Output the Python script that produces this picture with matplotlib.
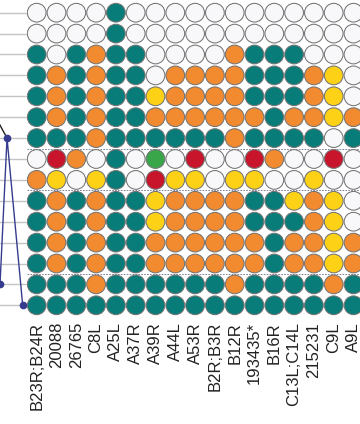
import numpy as np
import matplotlib
matplotlib.use("Agg")
import matplotlib.pyplot as plt

plt.rcParams["font.family"] = ["Liberation Sans", "DejaVu Sans"]

# --- data ---
strains = [
    "B23R;B24R", "20088", "26765", "C8L", "A25L", "A37R", "A39R", "A44L",
    "A53R", "B2R;B3R", "B12R", "193435*", "B16R", "C13L;C14L", "215231",
    "C9L", "A9L",
]

# one row per line of the matrix, one letter per strain
# W = absent, T = teal, O = orange, Y = yellow, R = red, G = green
grid_rows = [
    "WWWWTWWWWWWWWWWWW",
    "WWWWTWWWWWWWWWWWW",
    "TWTOTTWWWWOTTTWWW",
    "TOTOTTWOOOOTTTOYW",
    "TOTOTTYOOOOTTTOYW",
    "TOTOTTOOOOOOTOOYO",
    "TTTOTTTTTTOTTTTWT",
    "WROWTWGWRWWROWWRW",
    "OYWYTWRYYWYYWWYWW",
    "TOTOTTYOOOOTTYOYW",
    "TOTOTTYOOOOTTTOYW",
    "TOTOTTOOOOOOTOOYO",
    "TOTOTTOOOOOOTOOYO",
    "TTTOTTTTTTOTTTTOT",
    "TTTTTTTTTTTTTTTTT",
]

# rows where a new block starts (dotted separator above)
group_starts = [7, 9, 13]

# left panel line (partly cropped)
path_rows = [13, 6, 14]
path_vals = [0.0, 0.078, 0.252]
upper_rows = [5, 6]
upper_vals = [-0.048, 0.078]

COLORS = {
    "W": "#f8f8fa",
    "T": "#087c78",
    "O": "#f28a30",
    "Y": "#fcd116",
    "R": "#c8152b",
    "G": "#3aa64a",
}

# --- layout (pixels of the 360x424 canvas) ---
W, H = 360, 424
x0_px, dx_px = 36.7, 19.8
y0_px, dy_px = 12.7, 20.9
panel_px = 27
bottom_row = 14.6

n_rows = len(grid_rows)
ylim = (bottom_row, -y0_px / dy_px)
ax_bottom_px = y0_px + dy_px * bottom_row

fig = plt.figure(figsize=(W / 100, H / 100), dpi=100)

ax = fig.add_axes([panel_px / W, 1 - ax_bottom_px / H,
                   (W - panel_px) / W, ax_bottom_px / H])
xl = ((panel_px - x0_px) / dx_px, (W - x0_px) / dx_px)
ax.set_xlim(*xl)
ax.set_ylim(*ylim)

xs, ys, cs = [], [], []
for j, row in enumerate(grid_rows):
    for i, code in enumerate(row):
        xs.append(i)
        ys.append(j)
        cs.append(COLORS[code])
ax.scatter(xs, ys, s=182, c=cs, edgecolors="#747474", linewidths=0.75,
           zorder=3, clip_on=True)

for g in group_starts:
    ax.axhline(g - 0.5, color="#6a6f8a", linestyle=(0, (2, 1.5)),
               linewidth=0.6, zorder=1)

ax.set_xticks(range(len(strains)))
ax.set_xticklabels(strains, rotation=90, fontsize=12, color="#222222")
ax.tick_params(axis="x", length=0, pad=3)
ax.set_yticks([])
for s in ax.spines.values():
    s.set_visible(False)

# left panel
lax = fig.add_axes([0, 1 - ax_bottom_px / H, panel_px / W, ax_bottom_px / H])
lax.set_xlim(0, 0.3)
lax.set_ylim(*ylim)
for j in range(n_rows):
    lax.axhline(j, color="#c4c4c4", linewidth=1.0, zorder=1)
lax.plot(upper_vals, upper_rows, color="#222222", linewidth=1.0, zorder=2)
lax.plot(path_vals, path_rows, color="#363b8f", linewidth=1.0,
         marker="o", markersize=4.5, zorder=3)
lax.axis("off")

fig.savefig("out.png", dpi=100)
